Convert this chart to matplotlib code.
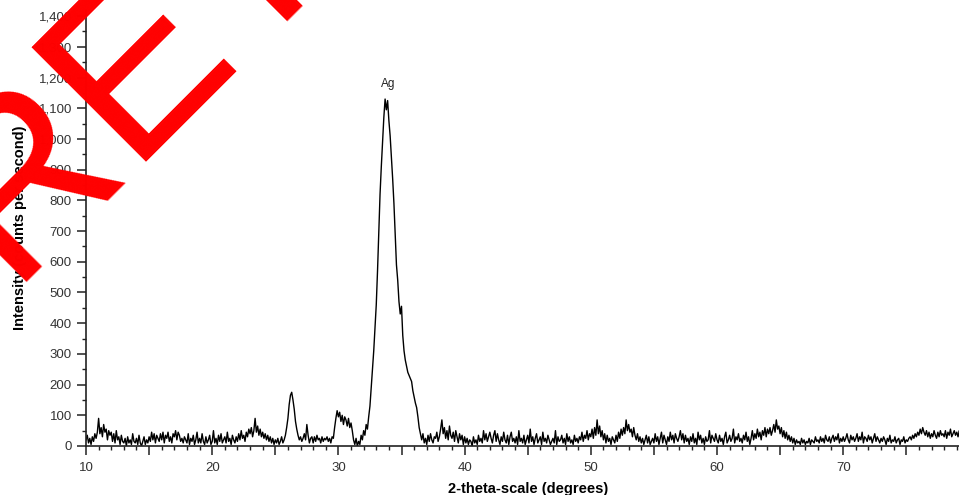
import numpy as np
import matplotlib
matplotlib.use("Agg")
import matplotlib.pyplot as plt
from matplotlib.ticker import MultipleLocator, FuncFormatter

plt.rcParams['font.family'] = ['Liberation Sans', 'DejaVu Sans']

# ---- data ----
start_deg = 10.0          # first 2-theta value
step_deg = 0.1            # sampling step of the scan
intensity = [
    # 10
    20, 35, 10, 25, 5, 30, 15, 40, 25, 45,
    # 11
    90, 40, 60, 30, 70, 45, 55, 20, 50, 35,
    # 12
    45, 15, 40, 10, 50, 20, 30, 5, 35, 15,
    # 13
    10, 25, 0, 30, 10, 20, 5, 40, 15, 10,
    # 14
    25, 5, 35, 10, 0, 15, 30, 5, 20, 10,
    # 15
    30, 15, 45, 20, 40, 10, 35, 25, 15, 40,
    # 16
    20, 45, 10, 35, 25, 45, 15, 30, 10, 40,
    # 17
    30, 50, 20, 45, 35, 15, 25, 10, 30, 20,
    # 18
    10, 40, 5, 25, 15, 35, 5, 20, 45, 10,
    # 19
    25, 10, 40, 15, 5, 30, 10, 20, 35, 5,
    # 20
    15, 50, 10, 25, 5, 35, 15, 40, 10, 20,
    # 21
    30, 10, 45, 15, 25, 5, 35, 20, 10, 30,
    # 22
    15, 40, 20, 50, 25, 35, 15, 45, 30, 55,
    # 23
    40, 60, 30, 50, 90, 45, 65, 35, 55, 30,
    # 24
    45, 25, 40, 20, 35, 15, 30, 10, 25, 5,
    # 25
    20, 10, 25, 5, 15, 30, 10, 20, 35, 60,
    # 26
    90, 135, 165, 175, 150, 120, 80, 55, 35, 20,
    # 27
    30, 15, 25, 40, 20, 70, 35, 10, 25, 30,
    # 28
    10, 30, 15, 35, 20, 25, 10, 30, 15, 25,
    # 29
    20, 30, 15, 25, 10, 30, 25, 60, 90, 115,
    # 30
    95, 110, 80, 100, 70, 95, 85, 65, 90, 60,
    # 31
    75, 50, 20, 5, 25, 0, 15, 5, 35, 20,
    # 32
    50, 35, 70, 55, 95, 130, 190, 250, 310, 385,
    # 33
    460, 570, 690, 820, 910, 990, 1070, 1130, 1095, 1125,
    # 34
    1060, 1010, 940, 870, 790, 690, 590, 540, 470, 430,
    # 35
    455, 360, 310, 280, 260, 240, 230, 220, 210, 180,
    # 36
    160, 140, 125, 95, 60, 40, 20, 40, 10, 25,
    # 37
    5, 35, 15, 40, 20, 10, 30, 25, 45, 15,
    # 38
    30, 55, 85, 40, 60, 25, 50, 20, 65, 35,
    # 39
    25, 45, 15, 50, 30, 10, 40, 20, 35, 5,
    # 40
    30, 10, 25, 5, 20, 15, 0, 30, 10, 20,
    # 41
    5, 35, 15, 25, 10, 50, 20, 40, 15, 30,
    # 42
    45, 25, 10, 35, 50, 15, 40, 20, 5, 30,
    # 43
    15, 45, 20, 10, 35, 5, 30, 45, 15, 25,
    # 44
    10, 30, 5, 50, 15, 25, 10, 35, 5, 20,
    # 45
    35, 10, 55, 15, 30, 5, 25, 40, 10, 20,
    # 46
    30, 5, 45, 15, 25, 10, 35, 20, 5, 15,
    # 47
    25, 10, 50, 5, 30, 15, 20, 35, 10, 25,
    # 48
    5, 40, 15, 30, 10, 20, 5, 35, 15, 25,
    # 49
    10, 30, 20, 45, 15, 35, 25, 50, 20, 40,
    # 50
    30, 55, 25, 60, 35, 85, 40, 65, 30, 50,
    # 51
    20, 40, 10, 35, 15, 25, 5, 30, 20, 10,
    # 52
    35, 15, 45, 25, 55, 35, 60, 40, 85, 50,
    # 53
    70, 45, 55, 30, 60, 35, 20, 40, 15, 30,
    # 54
    10, 25, 5, 20, 35, 10, 30, 5, 15, 25,
    # 55
    10, 40, 15, 30, 5, 25, 45, 10, 35, 20,
    # 56
    5, 30, 15, 45, 20, 35, 10, 40, 25, 15,
    # 57
    30, 50, 20, 40, 10, 35, 15, 25, 5, 30,
    # 58
    15, 40, 10, 25, 5, 45, 20, 35, 10, 25,
    # 59
    5, 30, 15, 20, 50, 10, 35, 25, 15, 40,
    # 60
    20, 10, 35, 15, 25, 5, 30, 45, 10, 20,
    # 61
    35, 15, 25, 55, 10, 30, 20, 40, 15, 25,
    # 62
    10, 35, 20, 45, 15, 30, 5, 25, 50, 20,
    # 63
    40, 25, 55, 30, 45, 20, 50, 35, 60, 30,
    # 64
    55, 40, 60, 35, 50, 70, 45, 85, 55, 65,
    # 65
    40, 60, 30, 50, 25, 45, 20, 35, 15, 30,
    # 66
    10, 25, 5, 20, 10, 15, 5, 25, 10, 20,
    # 67
    5, 15, 10, 25, 5, 20, 15, 10, 30, 15,
    # 68
    20, 10, 30, 15, 25, 10, 35, 20, 15, 30,
    # 69
    10, 25, 35, 15, 30, 20, 40, 10, 25, 15,
    # 70
    30, 15, 25, 40, 20, 10, 35, 20, 30, 15,
    # 71
    25, 40, 15, 30, 20, 45, 10, 30, 25, 15,
    # 72
    35, 20, 30, 10, 25, 40, 15, 30, 20, 10,
    # 73
    25, 15, 30, 20, 5, 25, 15, 35, 10, 20,
    # 74
    15, 30, 10, 20, 25, 5, 20, 15, 30, 10,
    # 75
    20, 15, 25, 30, 20, 35, 25, 40, 30, 45,
    # 76
    35, 55, 40, 60, 45, 35, 50, 30, 45, 25,
    # 77
    40, 30, 50, 35, 25, 45, 30, 50, 35, 40,
    # 78
    30, 50, 25, 45, 35, 55, 30, 40, 50, 35,
    # 79
    45, 30, 50, 40, 35, 45, 30, 40, 35, 45,
]

x_label = "2-theta-scale (degrees)"
y_label = "Intensity (counts per second)"
peak_label = "Ag"
peak_label_x = 33.95
peak_label_y = 1180
watermark = "RETRACTED"

# ---- figure ----
W, H = 959, 495
fig = plt.figure(figsize=(W / 100, H / 100), dpi=100)
px_per_deg = 12.62
ax = fig.add_axes([86 / W, 49 / H, 70 * px_per_deg / W, 436 / H])

two_theta = start_deg + step_deg * np.arange(len(intensity))
ax.plot(two_theta, intensity, color='black', lw=1.0)

ax.set_xlim(10, 80)
ax.set_ylim(0, 1420)

for s in ('top', 'right'):
    ax.spines[s].set_visible(False)
for s in ('left', 'bottom'):
    ax.spines[s].set_linewidth(1.2)
    ax.spines[s].set_color('#222222')

ax.xaxis.set_major_locator(MultipleLocator(5))
ax.xaxis.set_minor_locator(MultipleLocator(1))
ax.xaxis.set_major_formatter(FuncFormatter(
    lambda v, p: f"{int(round(v))}" if (round(v) % 10 == 0 and v < 79.5) else ""))
ax.yaxis.set_major_locator(MultipleLocator(100))
ax.yaxis.set_minor_locator(MultipleLocator(50))
ax.yaxis.set_major_formatter(FuncFormatter(lambda v, p: f"{int(round(v)):,}"))

ax.tick_params(axis='both', which='major', direction='out', length=6.2, width=1.1,
               color='#222222', labelsize=9.5, labelcolor='#333333', pad=4)
ax.tick_params(axis='x', which='major', pad=5.5)
ax.tick_params(axis='both', which='minor', direction='out', length=3.2, width=1.0,
               color='#222222')

ax.set_xlabel(x_label, fontsize=10.5, fontweight='bold', labelpad=5.5)
ax.set_ylabel(y_label, fontsize=10.5, fontweight='bold', labelpad=8)

ax.text(peak_label_x, peak_label_y, peak_label, ha='center', va='center', fontsize=8.5,
        color='#222222')

fig.text(7 / W, 1 - 282 / H, watermark, rotation=45, rotation_mode='anchor',
         ha='left', va='baseline', fontsize=170, color='#ff0000',
         family='Liberation Sans', zorder=10)

fig.savefig('out.png', dpi=100)
